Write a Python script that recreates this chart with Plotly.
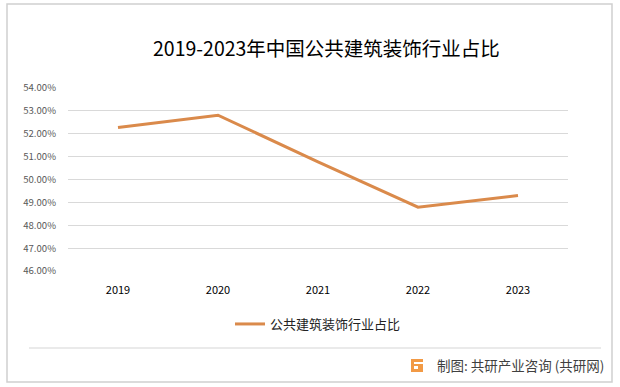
import plotly.graph_objects as go

years = ["2019", "2020", "2021", "2022", "2023"]
share = [0.5227, 0.5281, 0.5077, 0.4879, 0.4930]
series_name = "公共建筑装饰行业占比"
title_text = "2019-2023年中国公共建筑装饰行业占比"
source_text = "制图: 共研产业咨询 (共研网)"
y_ticks = [0.46, 0.47, 0.48, 0.49, 0.50, 0.51, 0.52, 0.53, 0.54]

W, H = 620, 387
L, R, T, B = 68, 568, 88, 271

def px(x):
    return (x - L) / (R - L)

def py(y):
    return (B - y) / (B - T)

font = "Noto Sans CJK SC, Noto Sans, sans-serif"

fig = go.Figure()
fig.add_trace(go.Scatter(
    x=years, y=share, mode="lines", name=series_name,
    line=dict(color="#DA8A4B", width=3),
))

shapes = [
    dict(type="rect", xref="paper", yref="paper", x0=px(7), x1=px(612), y0=py(382), y1=py(4),
         line=dict(color="#D0D0D0", width=1.5), fillcolor="rgba(0,0,0,0)"),
    dict(type="line", xref="paper", yref="paper", x0=px(29), x1=px(601), y0=py(348), y1=py(348),
         line=dict(color="#E3E3E3", width=1.5)),
    # logo
    dict(type="rect", xref="paper", yref="paper", x0=px(411), x1=px(423), y0=py(372), y1=py(359),
         line=dict(width=0), fillcolor="#F29A45"),
    dict(type="rect", xref="paper", yref="paper", x0=px(414), x1=px(423), y0=py(364), y1=py(362),
         line=dict(width=0), fillcolor="white"),
    dict(type="rect", xref="paper", yref="paper", x0=px(414), x1=px(418), y0=py(369), y1=py(366),
         line=dict(width=0), fillcolor="white"),
]

annotations = [
    dict(text=title_text, xref="paper", yref="paper", x=px(326), y=py(48),
         showarrow=False, xanchor="center", yanchor="middle",
         font=dict(family=font, size=19.5, color="#000000")),
    dict(text=source_text, xref="paper", yref="paper", x=px(606), y=py(365),
         showarrow=False, xanchor="right", yanchor="middle",
         font=dict(family=font, size=13.5, color="#404040")),
]

fig.update_layout(
    width=W, height=H,
    margin=dict(l=L, r=W - R, t=T, b=H - B, pad=0),
    paper_bgcolor="white", plot_bgcolor="white",
    showlegend=True,
    legend=dict(orientation="h", x=0.5, xanchor="center", y=py(324), yanchor="middle",
                font=dict(family=font, size=13, color="#222222"), bgcolor="rgba(0,0,0,0)"),
    xaxis=dict(type="category", range=[-0.5, 4.5], showgrid=False, showline=False,
               zeroline=False, ticks="", ticklabelstandoff=11,
               tickfont=dict(family=font, size=11, color="#000000")),
    yaxis=dict(range=[0.46, 0.54], tickvals=y_ticks, tickformat=".2%",
               showgrid=True, gridcolor="#D9D9D9", gridwidth=1, zeroline=False,
               showline=False, ticks="", ticklabelstandoff=11,
               tickfont=dict(family=font, size=9.6, color="#595959")),
    shapes=shapes, annotations=annotations,
)

fig.write_html("out.html", config={"displayModeBar": False},
               post_script="document.body.style.margin='0';document.body.style.overflow='hidden';")
